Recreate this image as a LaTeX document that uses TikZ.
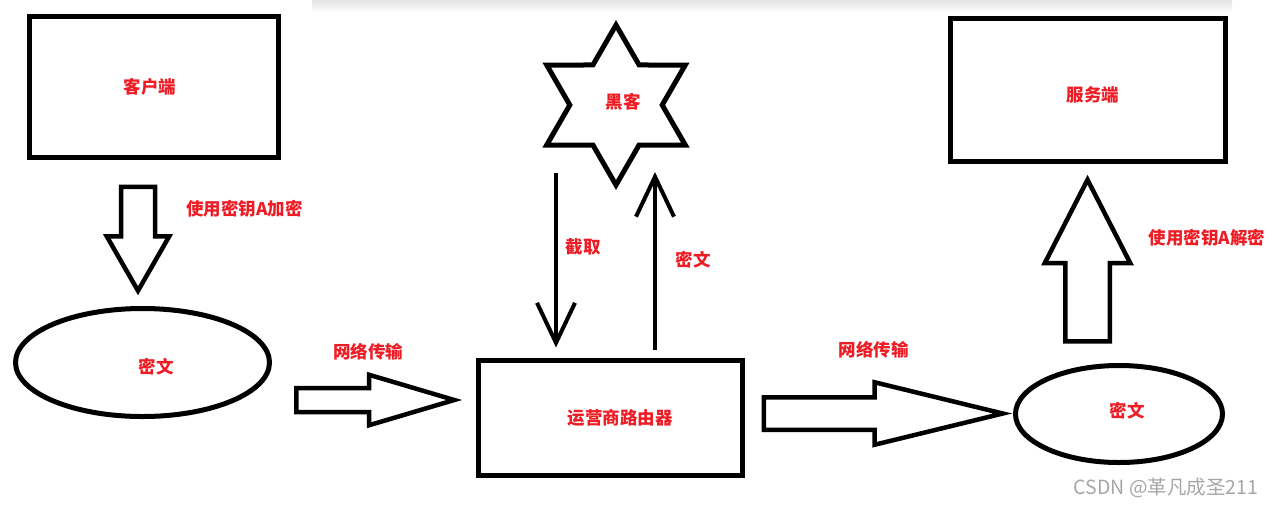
\documentclass[tikz,border=0pt]{standalone}
\usepackage{fontspec}
\newfontfamily\cjk{Noto Sans CJK SC}
\usetikzlibrary{shapes.geometric, shapes.arrows, arrows.meta, calc}
\definecolor{txtred}{HTML}{EE1C25}
\definecolor{wmgray}{HTML}{A6A6A6}
\tikzset{
  shp/.style={draw=black, line width=5pt, inner sep=0pt},
  rectbox/.style={shp, rectangle},
  oval/.style={shp, ellipse},
  hexstar/.style={shp, star, star points=6, star point ratio=1.732, minimum size=160pt},
  blockarr/.style={single arrow, draw=black, line width=4.5pt, inner xsep=0pt, single arrow head indent=0pt},
  lbl/.style={font=\cjk\bfseries\fontsize{17.5}{20}\selectfont, text=txtred, inner sep=0pt},
  wmark/.style={font=\cjk\fontsize{19.5}{22}\selectfont, text=wmgray, inner sep=0pt},
  larrow/.style={-{Straight Barb[length=40pt, width=38pt]}, line width=4pt, draw=black},
}
\begin{document}
\begin{tikzpicture}[x=1pt, y=-1pt]
  \useasboundingbox (0,0) rectangle (1276,507);
  \shade[top color=black!11, bottom color=white] (312,0) rectangle (1232,13);
  % end points
  \node[rectbox, minimum width=249pt, minimum height=141pt,
        label={[lbl, xshift=-4pt]center:客户端}] (client) at (154,87) {};
  \node[rectbox, minimum width=275.5pt, minimum height=143pt,
        label={[lbl, xshift=5pt, yshift=-5pt]center:服务端}] (server) at (1088,90) {};
  \node[rectbox, minimum width=264pt, minimum height=115pt,
        label={[lbl, xshift=9.5pt]center:运营商路由器}] (router) at (610.5,418) {};
  \node[hexstar, label={[lbl, xshift=7pt, yshift=3pt]center:黑客}] (hacker) at (616,105) {};
  \node[oval, minimum width=254pt, minimum height=108pt,
        label={[lbl, xshift=13.5pt, yshift=-4.5pt]center:密文}] (cipher1) at (142.5,362.5) {};
  \node[oval, minimum width=207pt, minimum height=97pt,
        label={[lbl, xshift=8pt, yshift=3pt]center:密文}] (cipher2) at (1119,414) {};
  % block arrows (shaft width = 2 x inner ysep)
  \node[blockarr, rotate=-90, anchor=tail, minimum height=104pt, inner ysep=14.75pt,
        single arrow head extend=14.25pt, single arrow tip angle=59.7] (enc) at (138,184.5) {};
  \node[blockarr, anchor=tail, minimum height=158pt, inner ysep=9.75pt,
        single arrow head extend=13.25pt, single arrow tip angle=33] (net1) at (294,400) {};
  \node[blockarr, anchor=tail, minimum height=239pt, inner ysep=14pt,
        single arrow head extend=15pt, single arrow tip angle=27.4] (net2) at (761.5,413.5) {};
  \node[blockarr, rotate=90, anchor=tail, minimum height=161.5pt, inner ysep=20pt,
        single arrow head extend=20.5pt, single arrow tip angle=54.3] (dec) at (1087.5,343.5) {};
  \node[lbl] (enc_l) at (244.5,209) {使用密钥A加密};
  \node[lbl] (dec_l) at (1207,238) {使用密钥A解密};
  \node[lbl] (net1_l) at (368,352) {网络传输};
  \node[lbl] (net2_l) at (873.5,350) {网络传输};
  % hacker side
  \draw[larrow] ($(hacker.south)+(-60,-17)$) -- ($(router.north)+(-54.5,-10.5)$);
  \draw[larrow] ($(router.north)+(44.5,-8.5)$) -- ($(hacker.south)+(39,-18)$);
  \node[lbl] (cut_l) at (583,247) {截取};
  \node[lbl] (ct_l) at (693,260) {密文};
  \node[wmark] (wm) at (1166,488) {CSDN @革凡成圣211};
\end{tikzpicture}
\end{document}
